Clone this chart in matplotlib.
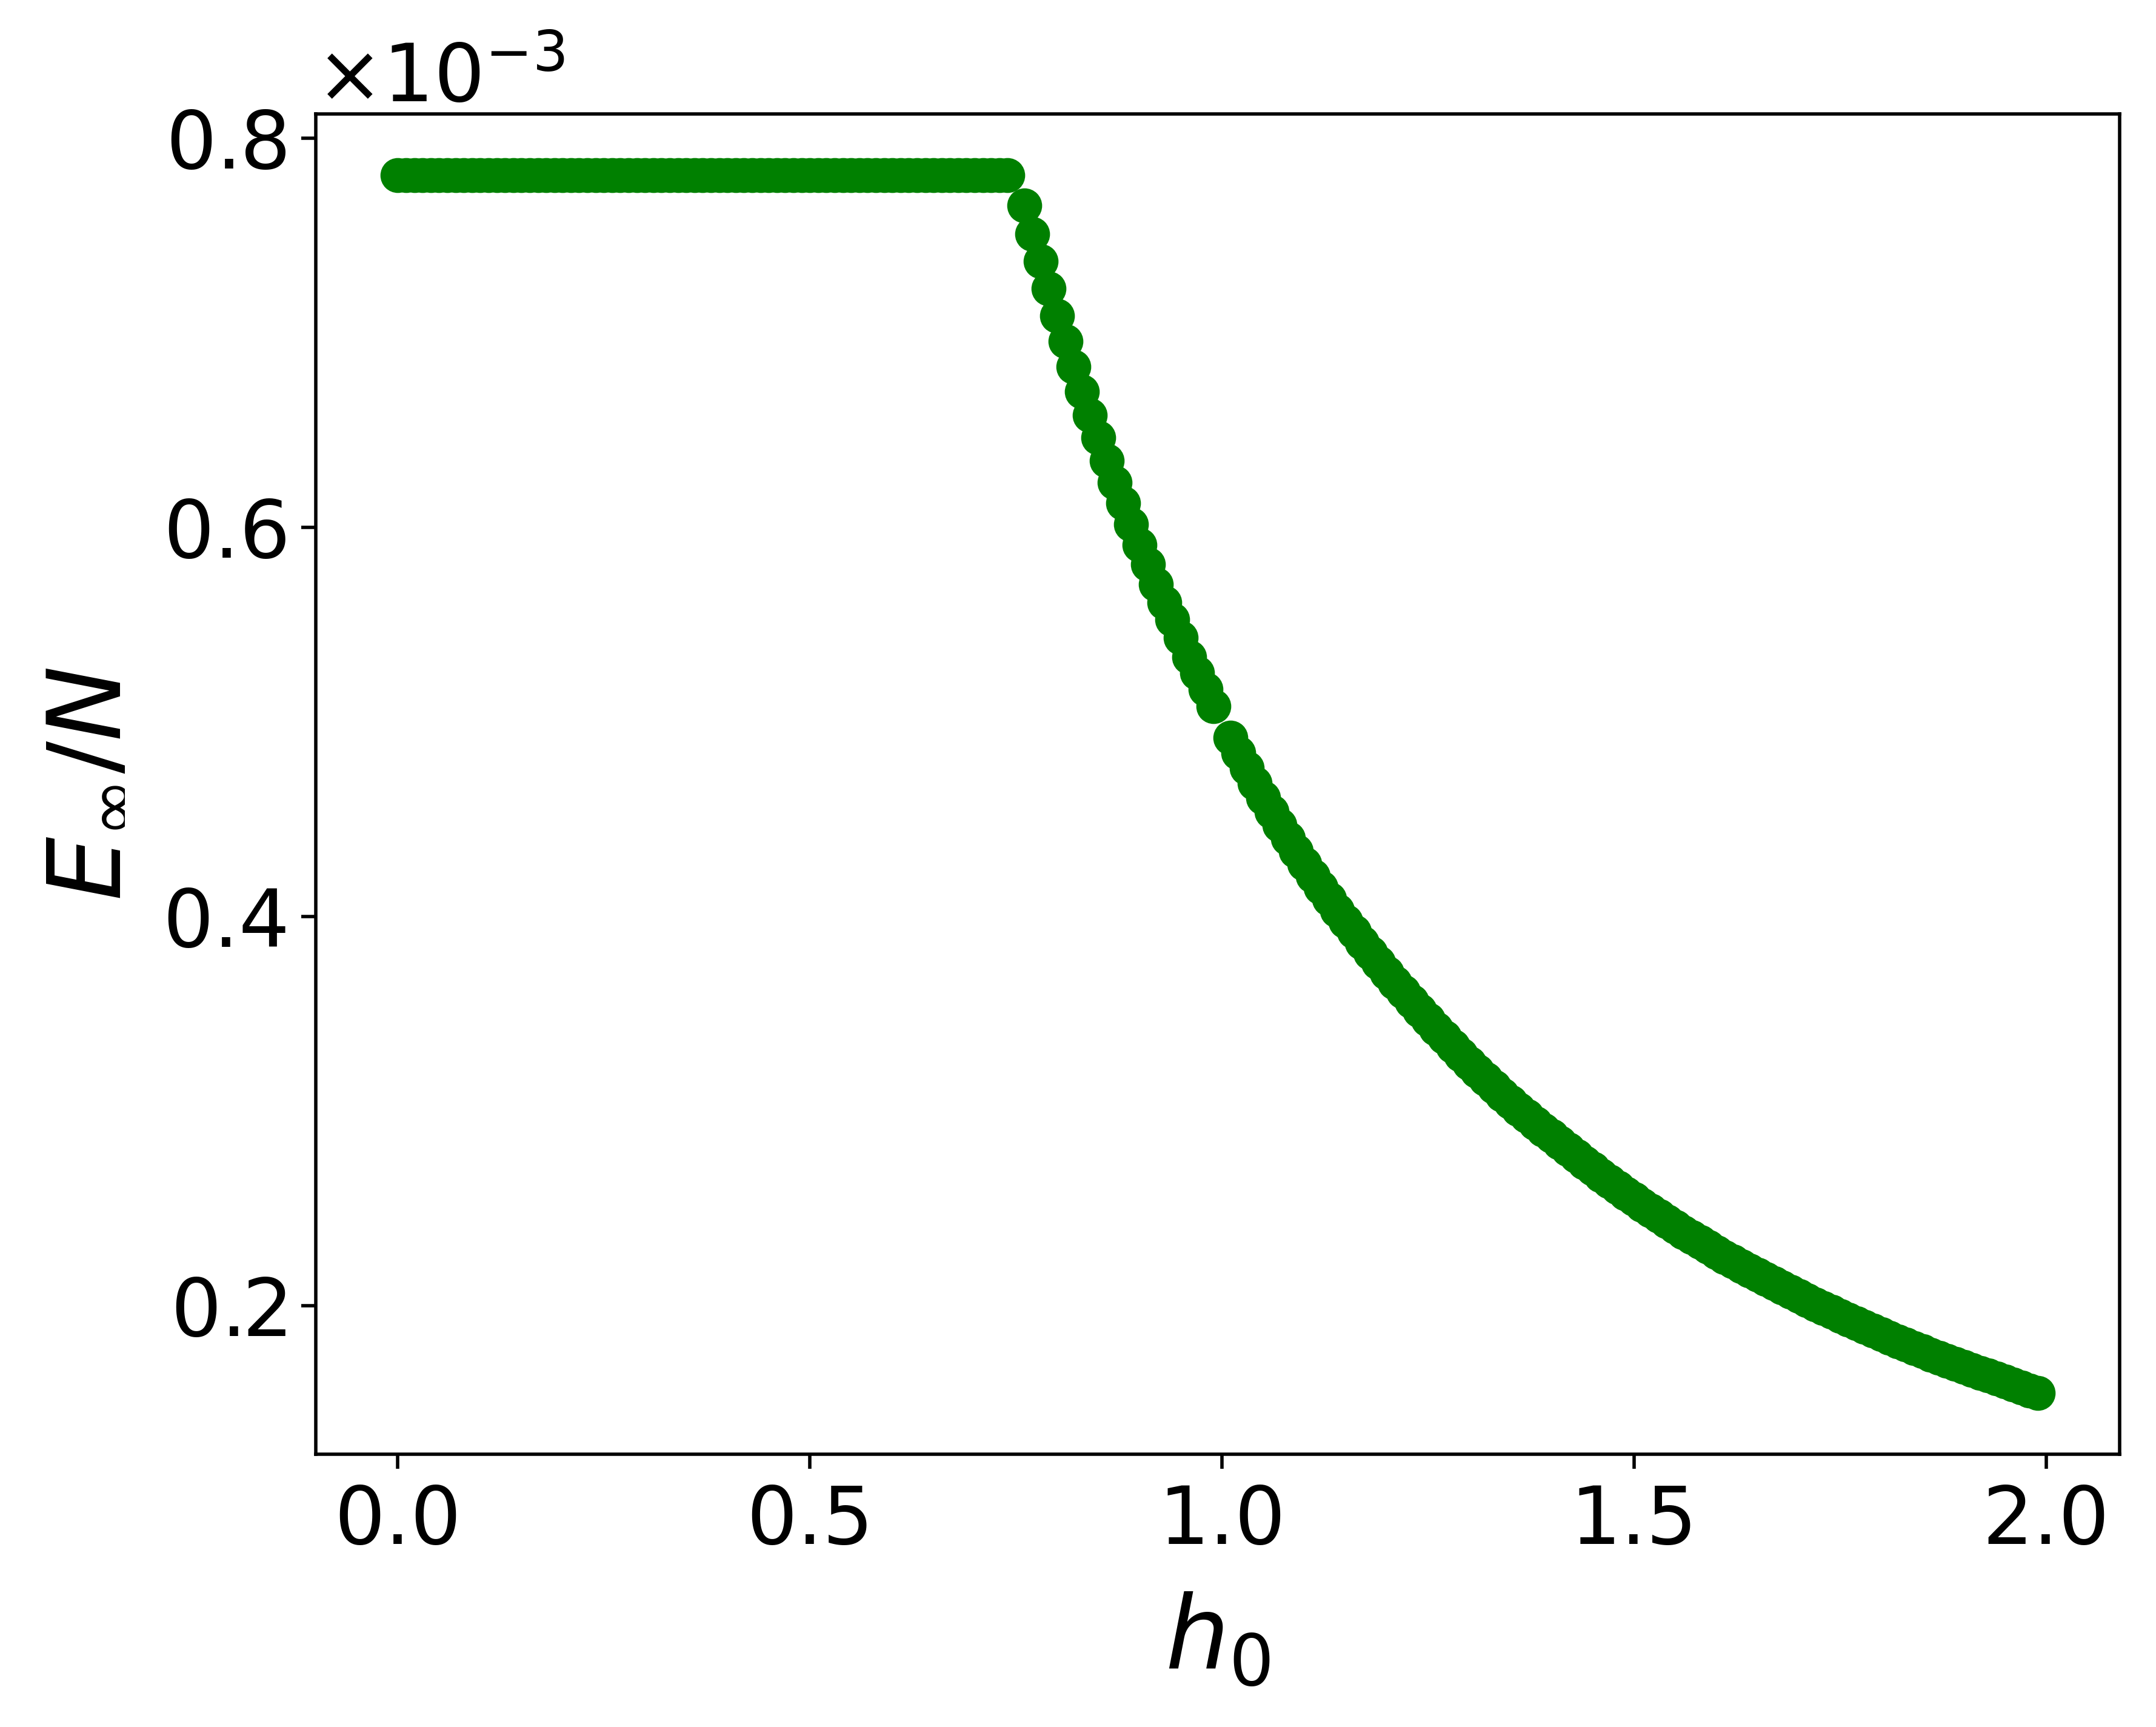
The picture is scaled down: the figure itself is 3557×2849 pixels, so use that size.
"""Long-time energy density E_inf/N versus quench field h0."""

import numpy as np
import matplotlib

matplotlib.use("Agg")
import matplotlib.pyplot as plt
from matplotlib.ticker import ScalarFormatter

# quench field grid (step 0.01); the points at 0.75 and 1.00 are absent in the figure
h0 = np.round(
    np.concatenate([np.arange(0, 75), np.arange(76, 100), np.arange(101, 200)]) * 0.01, 2
)

# E_inf / N in units of 1e-3
e_flat = [
    0.781, 0.781, 0.781, 0.781, 0.781, 0.781, 0.781, 0.781, 0.781, 0.781,
    0.781, 0.781, 0.781, 0.781, 0.781, 0.781, 0.781, 0.781, 0.781, 0.781,
    0.781, 0.781, 0.781, 0.781, 0.781, 0.781, 0.781, 0.781, 0.781, 0.781,
    0.781, 0.781, 0.781, 0.781, 0.781, 0.781, 0.781, 0.781, 0.781, 0.781,
    0.781, 0.781, 0.781, 0.781, 0.781, 0.781, 0.781, 0.781, 0.781, 0.781,
    0.781, 0.781, 0.781, 0.781, 0.781, 0.781, 0.781, 0.781, 0.781, 0.781,
    0.781, 0.781, 0.781, 0.781, 0.781, 0.781, 0.781, 0.781, 0.781, 0.781,
    0.781, 0.781, 0.781, 0.781, 0.781,
]  # 0.00 .. 0.74
e_drop = [
    0.7652, 0.7507, 0.7366, 0.7226, 0.7085, 0.6956, 0.6824, 0.6697, 0.6576, 0.6460,
    0.6343, 0.6229, 0.6125, 0.6016, 0.5908, 0.5810, 0.5706, 0.5613, 0.5525, 0.5432,
    0.5333, 0.5251, 0.5168, 0.5080,
]  # 0.76 .. 0.99
e_tail = [
    0.4920, 0.4840, 0.4762, 0.4686, 0.4612, 0.4540, 0.4470, 0.4402, 0.4336, 0.4272,
    0.4210, 0.4150, 0.4091, 0.4033, 0.3977, 0.3922, 0.3868, 0.3815, 0.3763, 0.3712,
    0.3662, 0.3613, 0.3565, 0.3518, 0.3471, 0.3425, 0.3380, 0.3335, 0.3291, 0.3248,
    0.3206, 0.3165, 0.3125, 0.3086, 0.3048, 0.3011, 0.2975, 0.2940, 0.2906, 0.2873,
    0.2838, 0.2804, 0.2770, 0.2737, 0.2704, 0.2672, 0.2640, 0.2609, 0.2578, 0.2548,
    0.2518, 0.2489, 0.2461, 0.2433, 0.2406, 0.2379, 0.2353, 0.2327, 0.2302, 0.2277,
    0.2251, 0.2228, 0.2205, 0.2183, 0.2160, 0.2138, 0.2116, 0.2094, 0.2072, 0.2051,
    0.2030, 0.2009, 0.1989, 0.1969, 0.1949, 0.1930, 0.1911, 0.1892, 0.1873, 0.1855,
    0.1837, 0.1819, 0.1801, 0.1784, 0.1767, 0.1750, 0.1734, 0.1718, 0.1702, 0.1687,
    0.1672, 0.1657, 0.1642, 0.1627, 0.1612, 0.1597, 0.1582, 0.1567, 0.1552,
]  # 1.01 .. 1.99

energy = np.array(e_flat + e_drop + e_tail) * 1e-3

x_ticks = [0.0, 0.5, 1.0, 1.5, 2.0]
y_ticks = [0.2e-3, 0.4e-3, 0.6e-3, 0.8e-3]

fig = plt.figure(figsize=(7.114, 5.698), dpi=500)
ax = fig.add_axes([0.1465, 0.158, 0.8367, 0.776])

ax.plot(h0, energy, "o", color="green", markersize=8.3, markeredgewidth=0)

ax.set_xticks(x_ticks)
ax.set_yticks(y_ticks)
fmt = ScalarFormatter(useMathText=True)
fmt.set_powerlimits((-3, -3))
ax.yaxis.set_major_formatter(fmt)
ax.tick_params(labelsize=19)
ax.yaxis.get_offset_text().set_fontsize(19)

ax.set_xlabel(r"$h_0$", fontsize=24, labelpad=7.5)
ax.set_ylabel(r"$E_\infty/N$", fontsize=24, labelpad=6.5)

fig.savefig("out.png", dpi=500)
